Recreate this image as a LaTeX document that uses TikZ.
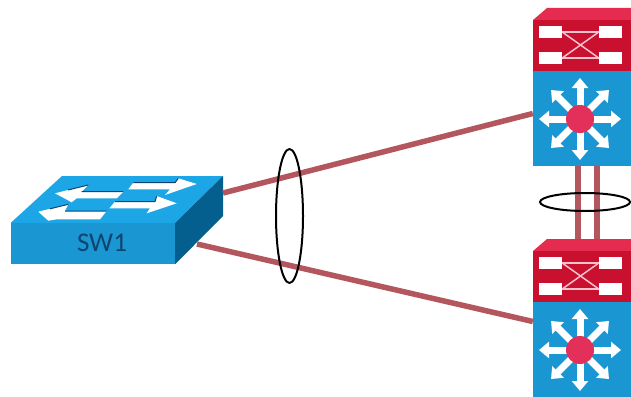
\documentclass[tikz,border=0pt]{standalone}
\usepackage{fontspec}
\setmainfont{Carlito}
\usetikzlibrary{arrows.meta,shapes.geometric}
\definecolor{swfront}{HTML}{1A96D2}
\definecolor{swtop}{HTML}{1CA6E6}
\definecolor{swside}{HTML}{045F8E}
\definecolor{swink}{HTML}{0F4470}
\definecolor{corered}{HTML}{C9102F}
\definecolor{coreroof}{HTML}{E52B50}
\definecolor{hubred}{HTML}{E3305A}
\definecolor{trunk}{HTML}{B3565E}
\begin{document}
\begin{tikzpicture}[
  x=1pt, y=-1pt,
  swface/.style={fill=swfront, minimum width=164pt, minimum height=41pt, inner sep=0pt},
  swtext/.style={text=swink, font=\fontsize{27}{27}\selectfont, inner sep=0pt},
  swarrow/.style={fill=white},
  swedge/.style={draw=swink, line width=1pt},
  corebody/.style={fill=swfront, minimum width=98pt, minimum height=95pt, inner sep=0pt},
  corecap/.style={fill=corered, minimum width=98pt, minimum height=51pt, inner sep=0pt},
  portbox/.style={fill=white, minimum width=23pt, minimum height=12pt, inner sep=0pt},
  hub/.style={circle, fill=hubred, minimum size=28pt, inner sep=0pt},
  spoke/.style={draw=white, line width=7pt, -{Triangle[width=16pt,length=10pt]}},
  xlink/.style={draw=white!70!hubred, line width=1.5pt},
  trunkline/.style={draw=trunk, line width=5.5pt},
  bundle/.style={ellipse, draw=black, line width=2pt, inner sep=0pt}
]
\useasboundingbox (0,0) rectangle (631,396);

\coordinate (portup) at (223,193);
\coordinate (portdn) at (197,244);

\node[swface] (sw1) at (93,243.5) {};
\node[swtext] (sw1label) at (102,243) {SW1};
\fill[swtop] (sw1.north west) -- (62,176) -- (223,176) -- (sw1.north east) -- cycle;
\fill[swside] (sw1.north east) -- (223,176) -- (223,216) -- (sw1.south east) -- cycle;

\fill[swarrow] (55,193.3) -- (88.3,185) -- (81.7,191.7) -- (123.3,191.7) -- (116.7,198.3)
  -- (76.7,198.3) -- (71.7,202.3) -- cycle;
\fill[swarrow] (196.7,184) -- (178.3,178.3) -- (175,182.7) -- (133.3,182.7) -- (128.3,189.3)
  -- (170,189.3) -- (165,195) -- cycle;
\fill[swarrow] (38.3,211.7) -- (68.3,204.3) -- (65,211) -- (106.7,211) -- (100,219.3)
  -- (56.7,219.3) -- (48.3,220.7) -- cycle;
\fill[swarrow] (176.7,203.3) -- (156.7,196) -- (155,201.7) -- (115,201.7) -- (109.3,208.3)
  -- (150,208.3) -- (146.7,213.3) -- cycle;
\draw[swedge] (88.3,185) -- (68,190) (81.7,191.7) -- (123.3,191.7);
\draw[swedge] (178.3,178.3) -- (175,182.7) -- (133.3,182.7);
\draw[swedge] (68.3,204.3) -- (50,208.8) (65,211) -- (106.7,211);
\draw[swedge] (156.7,196) -- (155,201.7) -- (115,201.7);

\foreach \nm/\dy in {A/0,B/231}{
  \begin{scope}[shift={(0,\dy)}]
    \coordinate (top\nm) at (582,8);
    \fill[coreroof] (533,20) -- (547,8) -- (631,8) -- (631,20) -- cycle;
    \node[corecap] (cap\nm) at (582,45.5) {};
    \node[corebody] (body\nm) at (582,118.5) {};
    \node[portbox] (pa\nm) at (550.5,32) {};
    \node[portbox] (pb\nm) at (550.5,58) {};
    \node[portbox] (pc\nm) at (610.5,32) {};
    \node[portbox] (pd\nm) at (610.5,58) {};
    \draw[xlink] (pa\nm) -- (pc\nm);
    \draw[xlink] (pb\nm) -- (pd\nm);
    \draw[xlink] (pa\nm.east) -- (pd\nm.west);
    \draw[xlink] (pb\nm.east) -- (pc\nm.west);
    \foreach \ang in {0,45,...,315}
      \draw[spoke] (580,119) -- ++(\ang:41);
    \node[hub] (hub\nm) at (580,119) {};
  \end{scope}
}

\draw[trunkline] (portup) -- ([yshift=5pt]bodyA.west);
\draw[trunkline] (portdn) -- ([yshift=28pt]bodyB.west);
\draw[trunkline] ([xshift=-4pt]bodyA.south) -- ([xshift=-4pt]topB);
\draw[trunkline] ([xshift=15pt]bodyA.south) -- ([xshift=15pt]topB);

\node[bundle, minimum width=27pt, minimum height=134pt] (lagleft) at (289.5,216) {};
\node[bundle, minimum width=90pt, minimum height=18pt] (lagright) at (585,202) {};
\end{tikzpicture}
\end{document}
